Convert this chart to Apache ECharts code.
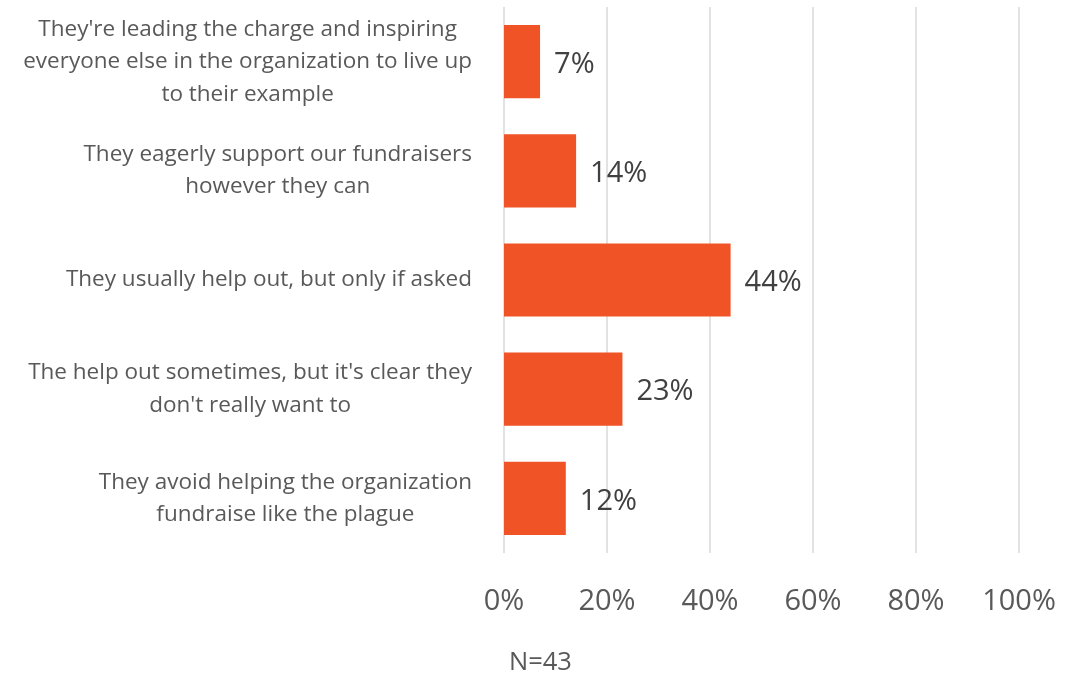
<!DOCTYPE html>
<html>
<head>
<meta charset="utf-8">
<script src="https://cdn.jsdelivr.net/npm/echarts@6/dist/echarts.min.js"></script>
<style>
  html, body { margin: 0; padding: 0; background: #fff; }
  #chart { width: 1084px; height: 676px; }
</style>
</head>
<body>
<div id="chart"></div>
<script>
// Survey responses: how board members engage with fundraising
const categories = [
  "They're leading the charge and inspiring\neveryone else in the organization to live up\nto their example",
  "They eagerly support our fundraisers\nhowever they can",
  "They usually help out, but only if asked",
  "The help out sometimes, but it's clear they\ndon't really want to",
  "They avoid helping the organization\nfundraise like the plague"
];
const shares = [7, 14, 44, 23, 12];
const axisTicks = [0, 20, 40, 60, 80, 100];
const sampleNote = "N=43";

const FONT = "'Open Sans', 'Noto Sans', sans-serif";

const chart = echarts.init(document.getElementById('chart'), null, { renderer: 'canvas' });

chart.setOption({
  backgroundColor: '#ffffff',
  animation: false,
  grid: { left: 504, right: 65, top: 7, bottom: 123, containLabel: false },
  xAxis: {
    type: 'value',
    min: axisTicks[0],
    max: axisTicks[axisTicks.length - 1],
    interval: axisTicks[1] - axisTicks[0],
    axisLine: { show: false },
    axisTick: { show: false },
    splitLine: { show: true, lineStyle: { color: '#D9D9D9', width: 1.5 } },
    axisLabel: {
      formatter: v => v + '%',
      color: '#595959',
      fontFamily: FONT,
      fontSize: 29,
      margin: 34
    }
  },
  yAxis: {
    type: 'category',
    data: categories,
    inverse: true,
    axisLine: { show: false },
    axisTick: { show: false },
    splitLine: { show: false },
    axisLabel: {
      margin: 32,
      align: 'right',
      color: '#595959',
      fontFamily: FONT,
      fontSize: 22.5,
      lineHeight: 32.5,
      // each line centred within the block, block right-aligned to the axis
      formatter: v => v.split('\n').map(s => '{c|' + s + '}').join('\n'),
      rich: {
        c: { align: 'center', color: '#595959', fontFamily: FONT, fontSize: 22.5, lineHeight: 32.5 }
      }
    }
  },
  series: [{
    type: 'bar',
    data: shares,
    barCategoryGap: '33%',
    itemStyle: { color: '#F05325' },
    label: {
      show: true,
      position: 'right',
      distance: 14,
      offset: [0, 3],
      formatter: p => p.value + '%',
      color: '#404040',
      fontFamily: FONT,
      fontSize: 29
    }
  }],
  graphic: [{
    type: 'text',
    left: 509,
    top: 650,
    style: {
      text: sampleNote,
      fill: '#595959',
      font: '25.5px ' + FONT
    }
  }]
});
</script>
</body>
</html>
